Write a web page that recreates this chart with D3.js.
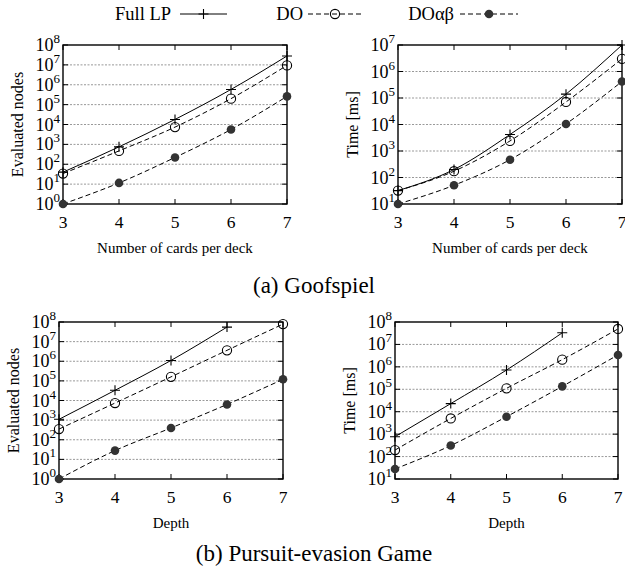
<!DOCTYPE html>
<html>
<head>
<meta charset="utf-8">
<script src="https://cdn.jsdelivr.net/npm/d3@7"></script>
<style>
  body { margin: 0; background: #fff; }
  svg text { font-family: "Liberation Serif", "Times New Roman", Times, "DejaVu Serif", serif; }
</style>
</head>
<body>
<script>
// values
var depths = [3, 4, 5, 6, 7];

var goofNodesFull = [40, 750, 18000, 580000, 2.8e7];
var goofNodesDO = [34, 470, 7400, 2.0e5, 9.4e6];
var goofNodesAB = [1, 11.5, 220, 5600, 2.6e5];

var goofTimeFull = [32, 200, 4200, 1.4e5, 1.0e7];
var goofTimeDO = [32, 173, 2400, 7.1e4, 3.0e6];
var goofTimeAB = [10, 51, 470, 1.05e4, 4.2e5];

var pursNodesFull = [1100, 3.3e4, 1.1e6, 5.5e7];
var pursNodesDO = [350, 7400, 1.6e5, 3.6e6, 7.8e7];
var pursNodesAB = [1, 28, 400, 6300, 1.2e5];

var pursTimeFull = [770, 2.3e4, 7.2e5, 3.3e7];
var pursTimeDO = [195, 5000, 1.1e5, 2.1e6, 4.9e7];
var pursTimeAB = [28, 310, 6000, 1.35e5, 3.4e6];

var seriesNames = ["Full LP", "DO", "DO\u03b1\u03b2"];
var captions = ["(a) Goofspiel", "(b) Pursuit-evasion Game"];

var W = 625, H = 576;
var FONT = "'Liberation Serif', 'Times New Roman', Times, serif";
var svg = d3.select("body").append("svg")
  .attr("width", W)
  .attr("height", H)
  .attr("font-family", FONT);

var panels = [
  { x0: 63, x1: 287, y0: 45, y1: 204, exps: [0, 8], ylabel: "Evaluated nodes", xlabel: "Number of cards per deck",
    data: [goofNodesFull, goofNodesDO, goofNodesAB] },
  { x0: 398, x1: 622, y0: 45, y1: 204, exps: [1, 7], ylabel: "Time [ms]", xlabel: "Number of cards per deck",
    data: [goofTimeFull, goofTimeDO, goofTimeAB] },
  { x0: 59, x1: 283, y0: 322, y1: 479, exps: [0, 8], ylabel: "Evaluated nodes", xlabel: "Depth",
    data: [pursNodesFull, pursNodesDO, pursNodesAB] },
  { x0: 395, x1: 618, y0: 322, y1: 479, exps: [1, 8], ylabel: "Time [ms]", xlabel: "Depth",
    data: [pursTimeFull, pursTimeDO, pursTimeAB] }
];

function drawMarker(g, kind, cx, cy) {
  if (kind === 0) {
    g.append("path")
      .attr("d", "M" + (cx - 5) + "," + cy + "H" + (cx + 5) + "M" + cx + "," + (cy - 5) + "V" + (cy + 5))
      .attr("stroke", "#000").attr("stroke-width", 1.1).attr("fill", "none");
  } else if (kind === 1) {
    g.append("circle").attr("cx", cx).attr("cy", cy).attr("r", 4.6)
      .attr("fill", "none").attr("stroke", "#000").attr("stroke-width", 1.1);
  } else {
    g.append("circle").attr("cx", cx).attr("cy", cy).attr("r", 4.3)
      .attr("fill", "#333");
  }
}

panels.forEach(function(p) {
  var x = d3.scaleLinear().domain([3, 7]).range([p.x0, p.x1]);
  var y = d3.scaleLog().domain([Math.pow(10, p.exps[0]), Math.pow(10, p.exps[1])]).range([p.y1, p.y0]);
  var g = svg.append("g");
  var decades = d3.range(p.exps[0], p.exps[1] + 1);

  // grid
  g.selectAll(".grid").data(decades.slice(1, -1)).enter().append("line")
    .attr("x1", p.x0).attr("x2", p.x1)
    .attr("y1", function(e) { return y(Math.pow(10, e)); })
    .attr("y2", function(e) { return y(Math.pow(10, e)); })
    .attr("stroke", "#999").attr("stroke-width", 1).attr("stroke-dasharray", "2,1.5");

  // ticks
  decades.forEach(function(e) {
    var yy = y(Math.pow(10, e));
    g.append("line").attr("x1", p.x0).attr("x2", p.x0 + 5).attr("y1", yy).attr("y2", yy).attr("stroke", "#000");
    g.append("line").attr("x1", p.x1).attr("x2", p.x1 - 5).attr("y1", yy).attr("y2", yy).attr("stroke", "#000");
    var t = g.append("text").attr("x", p.x0 - 3).attr("y", yy + 6).attr("text-anchor", "end")
      .attr("font-size", 18);
    t.append("tspan").text("10");
    t.append("tspan").attr("dy", -8).attr("font-size", 13).text(e);
  });
  depths.forEach(function(d) {
    var xx = x(d);
    g.append("line").attr("x1", xx).attr("x2", xx).attr("y1", p.y1).attr("y2", p.y1 - 5).attr("stroke", "#000");
    g.append("line").attr("x1", xx).attr("x2", xx).attr("y1", p.y0).attr("y2", p.y0 + 5).attr("stroke", "#000");
    g.append("text").attr("x", xx).attr("y", p.y1 + 24).attr("text-anchor", "middle")
      .attr("font-size", 17.5).text(d);
  });

  // border
  g.append("rect").attr("x", p.x0).attr("y", p.y0).attr("width", p.x1 - p.x0).attr("height", p.y1 - p.y0)
    .attr("fill", "none").attr("stroke", "#000").attr("stroke-width", 1.4);

  // series
  p.data.forEach(function(vals, k) {
    var pts = vals.map(function(v, i) { return [x(depths[i]), y(v)]; });
    var line = d3.line().curve(d3.curveMonotoneX);
    g.append("path").attr("d", line(pts))
      .attr("fill", "none").attr("stroke", "#000").attr("stroke-width", 1)
      .attr("stroke-dasharray", k === 0 ? null : "5,3");
    pts.forEach(function(pt) { drawMarker(g, k, pt[0], pt[1]); });
  });

  // axis titles
  var cx = (p.x0 + p.x1) / 2;
  g.append("text").attr("x", cx).attr("y", p.y1 + 49).attr("text-anchor", "middle")
    .attr("font-size", 15).text(p.xlabel);
  var cy = (p.y0 + p.y1) / 2;
  g.append("text").attr("transform", "translate(" + (p.x0 - 40) + "," + cy + ") rotate(-90)")
    .attr("text-anchor", "middle").attr("font-size", 16).text(p.ylabel);
});

// legend
var legend = svg.append("g");
var legendItems = [
  { tx: 171, lx0: 180, lx1: 227 },
  { tx: 303, lx0: 308, lx1: 362 },
  { tx: 454, lx0: 460, lx1: 518 }
];
legendItems.forEach(function(it, k) {
  legend.append("text").attr("x", it.tx).attr("y", 20).attr("text-anchor", "end")
    .attr("font-size", 18.5).text(seriesNames[k]);
  legend.append("line").attr("x1", it.lx0).attr("x2", it.lx1).attr("y1", 14).attr("y2", 14)
    .attr("stroke", "#000").attr("stroke-width", 1)
    .attr("stroke-dasharray", k === 0 ? null : "5,3");
  drawMarker(legend, k, (it.lx0 + it.lx1) / 2, 14);
});

// captions
svg.append("text").attr("x", 314).attr("y", 293).attr("text-anchor", "middle")
  .attr("font-size", 23).text(captions[0]);
svg.append("text").attr("x", 314).attr("y", 561).attr("text-anchor", "middle")
  .attr("font-size", 23).text(captions[1]);
</script>
</body>
</html>
